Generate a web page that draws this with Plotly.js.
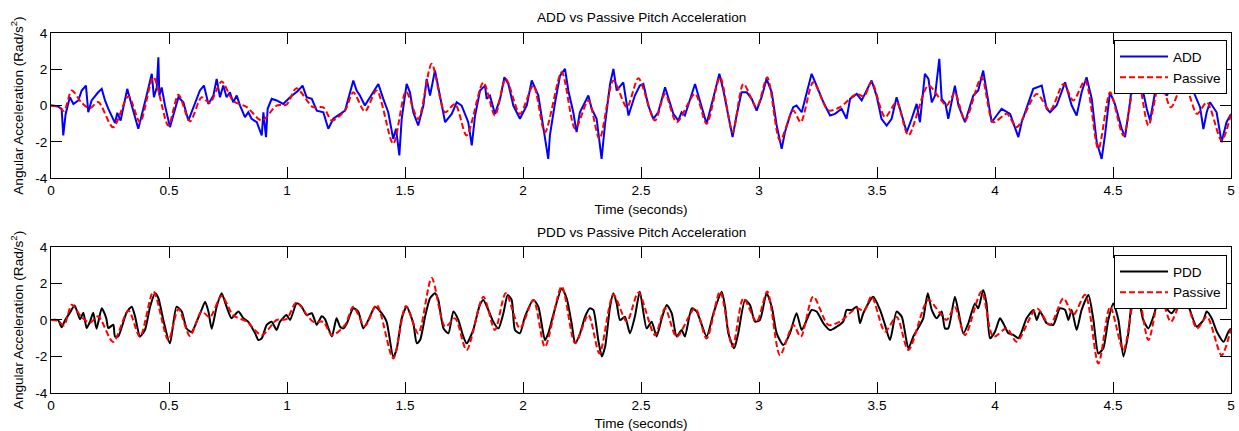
<!DOCTYPE html>
<html>
<head>
<meta charset="utf-8">
<script src="https://cdn.plot.ly/plotly-3.0.1.min.js"></script>
<style>html,body{margin:0;padding:0;background:#fff;}#chart{width:1239px;height:431px;}</style>
</head>
<body>
<div id="chart"></div>
<script>
// ---- Data ----
const tPassive = [0,0.03,0.055,0.088,0.13,0.165,0.2,0.263,0.328,0.377,0.434,0.497,0.54,0.589,0.638,0.673,0.723,0.772,0.83,0.893,0.956,0.998,1.04,1.11,1.154,1.19,1.246,1.281,1.33,1.38,1.45,1.504,1.556,1.613,1.67,1.712,1.761,1.832,1.881,1.927,1.987,2.044,2.093,2.164,2.221,2.277,2.324,2.383,2.44,2.489,2.559,2.602,2.651,2.729,2.778,2.835,2.888,2.934,2.99,3.035,3.089,3.145,3.177,3.23,3.294,3.343,3.414,3.445,3.477,3.534,3.583,3.633,3.717,3.767,3.795,3.83,3.873,3.943,3.993,4.05,4.092,4.177,4.233,4.29,4.332,4.382,4.438,4.488,4.544,4.6,4.65,4.7,4.745,4.8,4.856,4.898,4.96,5.0];
const vPassive = [0,-0.05,-0.3,0.83,0.15,-0.15,0.2,-1.2,0.51,-0.92,1.56,-1.1,0.6,-0.88,0.46,0.15,1.32,0.26,-0.09,-0.83,0.0,0.05,0.95,-0.09,-0.1,-0.83,-0.27,0.73,-0.33,0.83,-2.11,0.77,-0.74,2.3,-0.37,0.09,-1.65,1.28,-0.55,1.47,-0.46,1.1,-1.47,1.84,-1.28,0.28,-1.84,1.38,-0.09,1.5,-0.83,0.64,-0.92,0.64,-1.01,1.56,-1.47,1.19,-0.09,1.56,-1.93,-0.27,-0.92,1.28,-0.27,-0.09,0.64,0.5,1.3,-0.64,0.18,-1.65,1.1,0.37,0.0,0.7,-0.83,1.56,-0.92,-0.46,-1.19,0.64,-0.27,1.19,0.28,1.38,-2.39,0.73,-1.65,1.84,-1.1,1.38,-0.1,1.28,-0.46,0.18,-1.93,-0.46];

const tADD = [0,0.03,0.045,0.052,0.062,0.08,0.095,0.116,0.13,0.148,0.158,0.172,0.2,0.215,0.229,0.243,0.271,0.281,0.295,0.323,0.346,0.37,0.405,0.427,0.436,0.448,0.455,0.459,0.469,0.483,0.504,0.54,0.561,0.582,0.631,0.648,0.667,0.688,0.702,0.716,0.73,0.744,0.758,0.772,0.787,0.801,0.822,0.836,0.85,0.872,0.893,0.9,0.911,0.918,0.935,0.956,0.984,1.013,1.048,1.066,1.083,1.105,1.126,1.154,1.175,1.196,1.246,1.267,1.281,1.295,1.309,1.33,1.352,1.387,1.408,1.429,1.45,1.462,1.476,1.486,1.507,1.521,1.535,1.556,1.578,1.592,1.606,1.627,1.648,1.67,1.698,1.719,1.74,1.768,1.783,1.797,1.818,1.839,1.846,1.86,1.881,1.903,1.921,1.938,1.959,1.987,2.016,2.037,2.065,2.086,2.107,2.114,2.136,2.157,2.178,2.192,2.213,2.227,2.241,2.277,2.291,2.312,2.333,2.347,2.369,2.383,2.397,2.425,2.447,2.474,2.495,2.51,2.531,2.552,2.573,2.602,2.616,2.637,2.658,2.672,2.686,2.729,2.743,2.778,2.807,2.832,2.849,2.87,2.888,2.905,2.926,2.948,2.969,2.99,3.011,3.032,3.054,3.075,3.096,3.11,3.131,3.145,3.159,3.181,3.202,3.223,3.244,3.273,3.301,3.322,3.35,3.371,3.386,3.414,3.435,3.456,3.477,3.498,3.519,3.541,3.562,3.583,3.605,3.626,3.647,3.668,3.682,3.703,3.718,3.732,3.746,3.764,3.774,3.79,3.802,3.83,3.845,3.873,3.908,3.929,3.95,3.964,3.986,4.007,4.028,4.064,4.099,4.113,4.148,4.162,4.198,4.219,4.233,4.261,4.297,4.325,4.346,4.367,4.388,4.41,4.431,4.452,4.466,4.487,4.508,4.537,4.551,4.572,4.586,4.6,4.622,4.643,4.657,4.678,4.699,4.727,4.756,4.784,4.812,4.841,4.869,4.883,4.897,4.911,4.939,4.96,4.981,5.0];
const vADD = [0,-0.05,-0.18,-1.65,-0.46,0.46,0.09,0.28,0.83,1.1,-0.37,0.28,0.73,0.92,0.28,-0.18,-0.96,-0.4,-0.83,0.92,-0.18,-1.28,0.55,1.75,0.46,1.0,2.66,0.55,1.0,0.0,-1.19,0.46,0.18,-0.83,0.83,1.1,0.09,0.55,1.47,0.46,1.1,0.46,0.73,0.18,0.55,0.0,-0.64,-0.37,-0.73,-0.92,-1.65,-0.37,-1.74,-0.18,0.37,0.28,0.09,0.46,0.83,1.1,0.46,0.37,-0.28,-0.37,-1.28,-0.73,-0.28,0.73,1.38,0.83,0.55,0.0,0.46,1.19,0.37,-0.37,-1.84,-1.28,-2.75,-0.73,1.19,0.73,-0.37,-1.1,0.0,1.47,0.55,1.93,0.55,-0.92,-0.46,0.18,0.0,-0.92,-2.2,-0.55,0.83,1.1,0.37,0.55,-0.46,0.37,1.56,1.19,0.0,-0.73,0.0,1.38,0.55,-1.28,-2.94,-1.65,0.18,1.65,2.02,0.83,-0.37,-1.47,-0.37,0.55,-0.18,-0.73,-2.94,-1.1,1.19,2.02,0.83,1.28,-0.55,0.55,1.1,1.19,0.0,-0.73,-0.37,1.01,0.46,-0.46,-0.83,-0.37,-0.55,1.19,0.55,-1.01,0.46,1.75,0.83,-0.55,-1.74,-0.55,0.73,0.73,0.37,-0.28,0.46,1.47,0.73,-1.1,-2.39,-1.47,-0.55,-0.09,0.0,-0.37,0.73,1.75,1.1,0.18,-0.55,-0.46,-0.18,-0.73,0.37,0.64,0.28,0.83,1.38,0.55,-0.73,-1.1,-0.73,0.46,-0.46,-1.47,-0.73,0.09,-0.92,1.75,1.47,0.18,0.55,2.57,0.37,0.1,-0.73,1.1,0.0,-0.92,0.55,0.83,1.93,0.73,-0.92,-0.55,-0.18,-0.46,-1.74,-0.92,0.46,0.92,1.1,-0.18,-0.37,0.0,1.28,0.0,-0.55,0.73,1.56,0.37,-2.02,-2.94,-1.65,0.73,0.09,-1.28,-1.74,0.18,1.84,1.38,1.1,-0.18,-0.83,0.73,1.38,0.55,1.1,0.73,1.65,0.73,-0.09,-1.3,-0.37,0.18,-0.37,-2.02,-0.92,-0.46];

const tPDD = [0,0.03,0.045,0.06,0.08,0.1,0.123,0.137,0.151,0.165,0.179,0.193,0.215,0.234,0.243,0.264,0.271,0.285,0.32,0.342,0.356,0.377,0.398,0.42,0.441,0.455,0.476,0.504,0.532,0.554,0.575,0.596,0.617,0.638,0.653,0.667,0.681,0.702,0.723,0.744,0.765,0.794,0.815,0.836,0.865,0.879,0.893,0.914,0.935,0.956,0.97,0.998,1.013,1.041,1.062,1.083,1.105,1.126,1.147,1.161,1.19,1.21,1.225,1.239,1.253,1.281,1.302,1.323,1.345,1.373,1.401,1.422,1.45,1.464,1.486,1.507,1.535,1.55,1.564,1.585,1.606,1.627,1.641,1.663,1.684,1.705,1.726,1.747,1.761,1.789,1.817,1.832,1.853,1.874,1.896,1.917,1.935,1.952,1.966,1.987,2.008,2.044,2.065,2.093,2.107,2.128,2.164,2.185,2.206,2.221,2.242,2.263,2.284,2.298,2.319,2.334,2.348,2.369,2.383,2.397,2.411,2.432,2.453,2.474,2.495,2.524,2.545,2.566,2.588,2.609,2.63,2.651,2.672,2.686,2.715,2.736,2.778,2.807,2.842,2.856,2.87,2.895,2.912,2.941,2.962,2.983,3.004,3.032,3.054,3.075,3.103,3.131,3.159,3.181,3.202,3.223,3.244,3.273,3.301,3.329,3.357,3.371,3.393,3.414,3.428,3.442,3.484,3.513,3.534,3.555,3.583,3.605,3.633,3.654,3.682,3.696,3.715,3.732,3.753,3.774,3.788,3.802,3.83,3.845,3.866,3.887,3.915,3.929,3.95,3.964,3.979,4.0,4.021,4.035,4.057,4.078,4.099,4.113,4.134,4.163,4.177,4.191,4.219,4.247,4.275,4.297,4.311,4.325,4.346,4.367,4.396,4.417,4.438,4.459,4.48,4.501,4.523,4.544,4.565,4.586,4.607,4.628,4.65,4.671,4.699,4.727,4.749,4.784,4.805,4.826,4.855,4.883,4.897,4.918,4.94,4.969,4.989,5.0];
const vPDD = [0,0.0,-0.4,0.0,0.4,0.8,0.04,0.4,-0.44,-0.1,0.4,-0.48,0.64,0.1,-0.44,-0.26,-0.9,-0.9,0.4,0.73,0.2,-0.9,-0.55,0.73,1.46,1.2,0.0,-1.28,0.73,0.46,-0.48,-0.65,-0.1,0.55,1.0,0.46,-0.48,0.73,1.46,0.73,0.1,0.46,0.1,-0.1,-0.73,-1.1,-1.0,-0.27,-0.1,-0.55,-0.1,0.27,0.0,0.91,0.73,0.27,0.37,-0.26,0.2,0.05,-0.9,0.09,-0.37,-0.46,-0.2,0.64,0.46,-0.46,0.0,0.73,0.37,-0.09,-2.01,-1.64,0.09,0.73,-0.18,-1.28,-1.1,0.18,1.19,1.46,1.1,-0.46,-0.73,0.46,0.0,-0.9,-1.28,-0.55,0.82,1.1,0.55,-0.09,-0.46,0.37,1.37,1.1,-0.55,-0.73,0.18,1.1,0.73,-1.1,-0.73,0.27,1.73,1.19,-0.18,-1.28,-0.73,0.18,0.64,0.55,-1.1,-2.0,-1.46,0.73,1.46,0.91,0.0,0.18,-0.73,0.18,1.55,-0.46,-0.09,-0.9,0.09,0.82,0.37,-0.9,-0.55,-0.9,0.64,0.46,-0.9,0.37,1.55,0.73,-0.73,-1.55,-0.73,1.1,0.82,-0.09,0.0,1.46,0.73,-0.73,-1.37,-0.73,0.37,-0.55,0.0,0.55,0.46,-0.18,-0.55,-0.37,-0.09,0.55,0.55,0.73,-0.18,0.37,1.28,0.55,-0.27,-1.1,0.46,0.18,-1.55,-0.9,-0.27,0.09,1.46,0.55,0.09,0.46,-0.46,-0.46,1.28,0.46,-0.73,-0.18,0.91,0.64,1.64,0.91,-1.0,-0.64,0.09,-0.18,-0.73,-0.82,-1.0,-0.64,0.09,0.55,0.0,0.46,-0.18,-0.27,0.64,0.55,0.0,0.55,-0.55,0.55,1.37,0.0,-1.83,-1.55,0.0,0.91,0.0,-2.0,-0.73,1.37,1.19,0.0,-0.46,0.18,1.28,0.64,0.37,1.1,1.46,0.55,-0.37,0.0,0.46,0.09,-0.64,-1.19,-0.64,-0.46];

const xTickVals = [0,0.5,1,1.5,2,2.5,3,3.5,4,4.5,5];
const xTickText = ['0','0.5','1','1.5','2','2.5','3','3.5','4','4.5','5'];
const yTickVals = [-4,-2,0,2,4];
const yTickText = ['-4','-2','0','2','4'];
const titles = ['ADD vs Passive Pitch Acceleration','PDD vs Passive Pitch Acceleration'];
const xLabel = 'Time (seconds)';
const yLabel = 'Angular Acceleration (Rad/s<sup>2</sup>)';

// ---- Styling ----
const FONT = 'Liberation Sans, Arial, Helvetica, sans-serif';
const FS = 13.6;
const dashPat = '6px,3px';

const traces = [
  {x:tADD, y:vADD, xaxis:'x', yaxis:'y', name:'ADD', type:'scatter', mode:'lines', legend:'legend',
   line:{color:'#0000ff', width:2}},
  {x:tPassive, y:vPassive, xaxis:'x', yaxis:'y', name:'Passive', type:'scatter', mode:'lines', legend:'legend',
   line:{color:'#ff0000', width:2, dash:dashPat, shape:'spline', smoothing:0.8}},
  {x:tPDD, y:vPDD, xaxis:'x2', yaxis:'y2', name:'PDD', type:'scatter', mode:'lines', legend:'legend2',
   line:{color:'#000000', width:2, shape:'spline', smoothing:0.6}},
  {x:tPassive, y:vPassive, xaxis:'x2', yaxis:'y2', name:'Passive', type:'scatter', mode:'lines', legend:'legend2',
   line:{color:'#ff0000', width:2, dash:dashPat, shape:'spline', smoothing:0.8}}
];

function xAxis(anchor){
  return {anchor:anchor, domain:[0,1], range:[0,5], tickvals:xTickVals, ticktext:xTickText,
    ticks:'inside', ticklen:11, tickwidth:1, tickcolor:'#000', showline:true, linecolor:'#000', linewidth:1,
    mirror:'ticks', showgrid:false, zeroline:false, tickfont:{family:FONT,size:FS,color:'#000'},
    title:{text:xLabel, font:{family:FONT,size:FS,color:'#000'}, standoff:7}};
}
function yAxis(anchor, dom){
  return {anchor:anchor, domain:dom, range:[-4,4], tickvals:yTickVals, ticktext:yTickText,
    ticks:'inside', ticklen:11, tickwidth:1, tickcolor:'#000', showline:true, linecolor:'#000', linewidth:1,
    mirror:'ticks', showgrid:false, zeroline:false, tickfont:{family:FONT,size:FS,color:'#000'},
    title:{text:yLabel, font:{family:FONT,size:FS,color:'#000'}, standoff:8}};
}

const legendStyle = (y) => ({x:0.9966, xanchor:'right', y:y, yanchor:'top', bgcolor:'#fff',
  bordercolor:'#000', borderwidth:1, itemwidth:48, font:{family:FONT,size:FS,color:'#000'}, tracegroupgap:0});

const layout = {
  width:1239, height:431,
  margin:{l:51, r:8, t:33, b:38},
  paper_bgcolor:'#fff', plot_bgcolor:'#fff',
  font:{family:FONT, size:FS, color:'#000'},
  showlegend:true,
  xaxis:xAxis('y'), yaxis:yAxis('x',[0.597,1]),
  xaxis2:xAxis('y2'), yaxis2:yAxis('x2',[0,0.4056]),
  legend:legendStyle(0.98),
  legend2:legendStyle(0.383),
  annotations:[
    {text:titles[0], xref:'paper', yref:'paper', x:0.5, y:1.044, xanchor:'center', yanchor:'middle', showarrow:false, font:{family:FONT,size:FS,color:'#000'}},
    {text:titles[1], xref:'paper', yref:'paper', x:0.5, y:0.447, xanchor:'center', yanchor:'middle', showarrow:false, font:{family:FONT,size:FS,color:'#000'}}
  ]
};

Plotly.newPlot('chart', traces, layout, {displayModeBar:false, staticPlot:true});
</script>
</body>
</html>
